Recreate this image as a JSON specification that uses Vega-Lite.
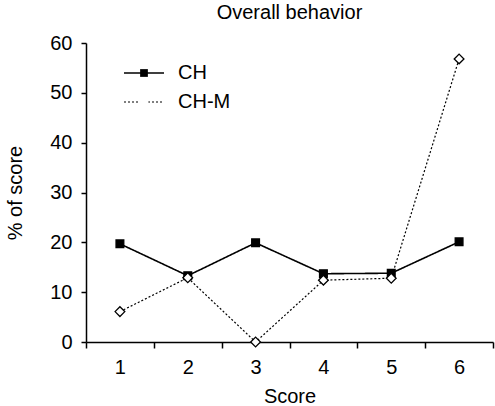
{
  "$schema": "https://vega.github.io/schema/vega-lite/v6.json",
  "autosize": "none",
  "width": 407,
  "height": 299,
  "padding": {"left": 86, "top": 43, "right": 2, "bottom": 64},
  "background": "white",
  "title": {"text": "Overall behavior", "fontSize": 20, "font": "Liberation Sans", "fontWeight": "normal", "anchor": "middle", "offset": 10, "color": "black"},
  "config": {
    "view": {"stroke": null},
    "font": "Liberation Sans",
    "axis": {"grid": false, "domainColor": "black", "tickColor": "black", "labelColor": "black", "titleColor": "black", "labelFont": "Liberation Sans", "titleFont": "Liberation Sans", "titleFontWeight": "normal", "domainWidth": 1.5, "tickWidth": 1.5},
    "legend": {"orient": "none", "legendY": 20, "padding": 0, "symbolStrokeColor": "black", "labelFontSize": 20, "labelFont": "Liberation Sans", "labelColor": "black", "rowPadding": 9}
  },
  "data": {"values": [
    {"score": 1, "series": "CH", "value": 19.7},
    {"score": 2, "series": "CH", "value": 13.3},
    {"score": 3, "series": "CH", "value": 19.9},
    {"score": 4, "series": "CH", "value": 13.7},
    {"score": 5, "series": "CH", "value": 13.8},
    {"score": 6, "series": "CH", "value": 20.1},
    {"score": 1, "series": "CH-M", "value": 6.1},
    {"score": 2, "series": "CH-M", "value": 12.9},
    {"score": 3, "series": "CH-M", "value": 0},
    {"score": 4, "series": "CH-M", "value": 12.4},
    {"score": 5, "series": "CH-M", "value": 12.8},
    {"score": 6, "series": "CH-M", "value": 56.8}
  ]},
  "encoding": {
    "x": {"field": "score", "type": "quantitative", "scale": {"domain": [0.5, 6.5], "nice": false, "zero": false},
      "axis": {"title": "Score", "values": [0.5, 1, 1.5, 2, 2.5, 3, 3.5, 4, 4.5, 5, 5.5, 6, 6.5],
        "labelExpr": "datum.value % 1 == 0 ? format(datum.value, 'd') : ''",
        "tickOpacity": {"condition": {"test": "datum.value % 1 == 0", "value": 0}, "value": 1},
        "tickSize": 6, "labelPadding": 9, "labelFontSize": 20, "titleFontSize": 20, "titlePadding": 9, "labelFlush": false}},
    "y": {"field": "value", "type": "quantitative", "scale": {"domain": [0, 60], "nice": false},
      "axis": {"title": "% of score", "values": [0, 10, 20, 30, 40, 50, 60], "format": "d", "tickSize": 5, "labelPadding": 9, "labelFontSize": 20, "titleFontSize": 20, "titlePadding": 24}}
  },
  "layer": [
    {
      "mark": {"type": "line", "color": "black"},
      "encoding": {
        "strokeDash": {"field": "series", "type": "nominal", "title": null, "scale": {"domain": ["CH", "CH-M"], "range": [[1, 0], [2, 2]]},
          "legend": {"legendX": 48, "symbolType": "M-4,0H4", "symbolSize": 100, "labelOffset": 24, "symbolStrokeColor": "black"}},
        "strokeWidth": {"field": "series", "type": "nominal", "title": null, "scale": {"domain": ["CH", "CH-M"], "range": [1.6, 1.2]},
          "legend": {"legendX": 48, "symbolType": "M-4,0H4", "symbolSize": 100, "labelOffset": 24, "symbolStrokeColor": "black"}}
      }
    },
    {
      "mark": {"type": "point", "filled": false, "color": "black", "stroke": "black", "strokeWidth": 1.3, "opacity": 1},
      "encoding": {
        "shape": {"field": "series", "type": "nominal", "title": null, "scale": {"range": ["square", "diamond"]},
          "legend": {"legendX": 48, "labelOpacity": 0, "labelOffset": 24, "symbolStrokeWidth": 1.3, "symbolStrokeColor": "black"}},
        "fill": {"field": "series", "type": "nominal", "title": null, "scale": {"range": ["black", "white"]},
          "legend": {"legendX": 48, "labelOpacity": 0, "labelOffset": 24, "symbolStrokeWidth": 1.3, "symbolStrokeColor": "black"}},
        "size": {"field": "series", "type": "nominal", "title": null, "scale": {"range": [60, 95]},
          "legend": {"legendX": 48, "labelOpacity": 0, "labelOffset": 24, "symbolStrokeWidth": 1.3, "symbolStrokeColor": "black"}}
      }
    }
  ]
}
